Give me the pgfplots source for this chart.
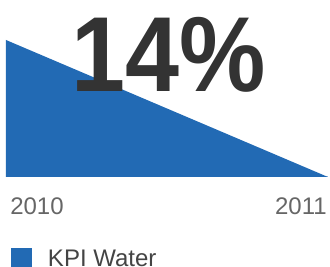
\documentclass[border=0pt]{standalone}
\usepackage{pgfplots}
\pgfplotsset{compat=1.18}
\usepackage{fontspec}
\setmainfont{Liberation Sans}
\definecolor{kpiblue}{RGB}{34,106,180}
\definecolor{bigtext}{RGB}{51,51,51}
\definecolor{ticktext}{RGB}{102,102,102}
\definecolor{legtext}{RGB}{68,68,68}
\begin{document}
\begin{tikzpicture}
\useasboundingbox (-4.5pt,-67.5pt) rectangle (243pt,132.75pt);
\begin{axis}[
  scale only axis, width=241.5pt, height=102.75pt,
  xmin=2010, xmax=2011, ymin=0, ymax=1,
  axis y line=none, axis x line=bottom,
  x axis line style={-, draw=kpiblue!35, line width=0.75pt},
  xtick={2010}, xticklabels={2010},
  extra x ticks={2011}, extra x tick labels={2011},
  extra x tick style={xticklabel style={anchor=north east, xshift=-3.75pt}},
  xticklabel style={anchor=north west, inner sep=0pt, yshift=-15pt, xshift=3pt,
    font=\fontsize{18}{20}\selectfont, text=ticktext},
  major tick length=0pt,
  ytick=\empty,
  legend style={at={(0,0)}, anchor=north west, xshift=3.75pt, yshift=-53.5pt,
    draw=none, fill=none, inner sep=0pt, outer sep=0pt,
    nodes={inner sep=0pt}, column sep=12pt,
    font=\fontsize{18}{20}\selectfont, text=legtext},
  legend image code/.code={\fill[#1] (0pt,-7.5pt) rectangle (15.75pt,8.5pt);},
]
\addplot[fill=kpiblue, draw=none] coordinates {(2010,1) (2011,0)} \closedcycle;
\addlegendentry{KPI Water}
\end{axis}
\node[anchor=base, inner sep=0pt, xscale=0.91, text=bigtext, font=\fontsize{80}{80}\selectfont\bfseries] at (122.25pt,63.75pt) {14\%};
\end{tikzpicture}
\end{document}
